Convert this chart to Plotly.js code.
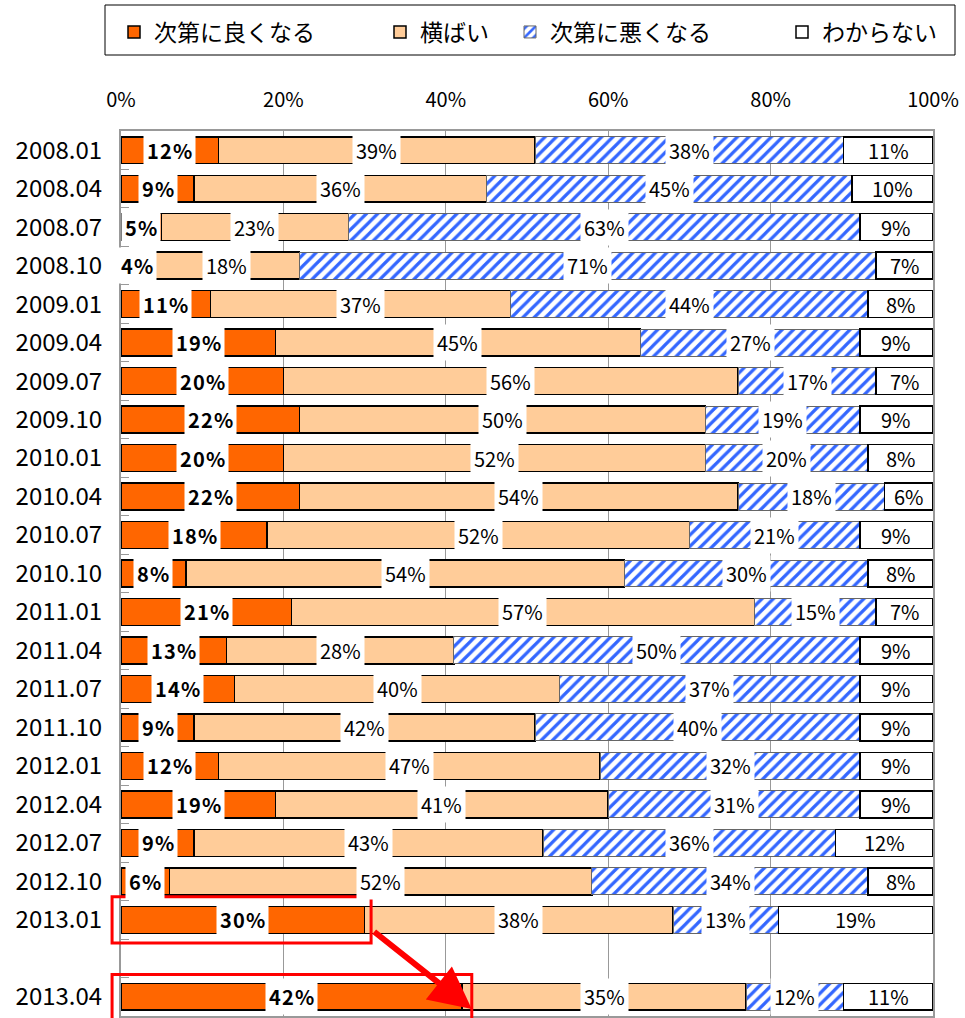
<!DOCTYPE html>
<html><head><meta charset="utf-8">
<script src="https://cdn.plot.ly/plotly-3.0.1.min.js"></script>
<style>html,body{margin:0;padding:0;background:#fff;}#chart{width:965px;height:1018px;}</style>
</head><body><div id="chart"></div>
<script>
const periods = ['2008.01','2008.04','2008.07','2008.10','2009.01','2009.04','2009.07','2009.10','2010.01','2010.04','2010.07','2010.10','2011.01','2011.04','2011.07','2011.10','2012.01','2012.04','2012.07','2012.10','2013.01','2013.04'];
const better  = [12, 9, 5, 4,11,19,20,22,20,22,18, 8,21,13,14, 9,12,19, 9, 6,30,42];
const flat    = [39,36,23,18,37,45,56,50,52,54,52,54,57,28,40,42,47,41,43,52,38,35];
const worse   = [38,45,63,71,44,27,17,19,20,18,21,30,15,50,37,40,32,31,36,34,13,12];
const unknown = [11,10, 9, 7, 8, 9, 7, 9, 8, 6, 9, 8, 7, 9, 9, 9, 9, 9,12, 8,19,11];
const seriesNames = ['次第に良くなる','横ばい','次第に悪くなる','わからない'];
const xTickVals = [0,20,40,60,80,100];
const xTickText = ['0%','20%','40%','60%','80%','100%'];

const FONT = '"Noto Sans CJK JP", "Noto Sans", sans-serif';
const gapAt = 21; // spacer before 2013.04
function withGap(arr, filler){ return arr.slice(0,gapAt).concat([filler], arr.slice(gapAt)); }
const yCats = withGap(periods, ' ');
const series = [better, flat, worse, unknown];

const styles = [
  {color:'#FF6600', line:{color:'#000', width:1.5}},
  {color:'#FFCC99', line:{color:'#000', width:1.5}},
  {color:'#FFFFFF', line:{color:'#666', width:1}, pattern:{shape:'/', fgcolor:'#3366FF', bgcolor:'#FFFFFF', size:8, solidity:0.4}},
  {color:'#FFFFFF', line:{color:'#000', width:1.5}}
];
const legendIds = ['legend','legend2','legend3','legend4'];

const traces = series.map((vals, k) => ({
  type:'bar', orientation:'h', name: seriesNames[k],
  y: yCats, x: withGap(vals, null),
  marker: styles[k], legend: legendIds[k],
  hoverinfo:'skip'
}));

// labels at segment centers
const annotations = [];
yCats.forEach((cat, i) => {
  if (cat === ' ') return;
  const j = i > gapAt ? i - 1 : i;
  let cum = 0;
  series.forEach((vals, k) => {
    const v = vals[j];
    const bold = k === 0;
    annotations.push({
      x: cum + v/2, y: i, xref:'x', yref:'y',
      text: bold ? String(v).split('').join('\u200A') + '\u200A%' : v + '%',
      showarrow:false,
      bgcolor: k === 3 ? 'rgba(0,0,0,0)' : '#FFFFFF', borderpad:3,
      font:{family:FONT, size:20, color:'#000', weight: bold ? 'bold' : 'normal'}
    });
    cum += v;
  });
});

// red arrow from 2013.01 box to 2013.04
const i1 = gapAt - 1, i2 = gapAt + 1;
annotations.push({
  xref:'x', yref:'y', axref:'x', ayref:'y',
  x: better[21] + 1.2, y: i2 + 0.32, ax: better[20] + 1, ay: i1 + 0.28,
  text:'', showarrow:true, arrowcolor:'#FF0000', arrowwidth:6, arrowhead:2, arrowsize:1.4, standoff:0, startstandoff:0
});

const nSlots = yCats.length;
const yRange = [nSlots - 0.5, -0.5];
function py(idx){ return (yRange[0] - idx) / (yRange[0] - yRange[1]); }
const plotL = 121, plotR = 933, plotT = 131, plotB = 1016;
function pxX(px){ return (px - plotL) / (plotR - plotL); }
function pxY(px){ return 1 + (plotT - px) / (plotB - plotT); }

const shapes = [
  {type:'rect', xref:'paper', yref:'paper', x0: pxX(105), x1: pxX(955), y0: pxY(5), y1: pxY(55), line:{color:'#000', width:1}, fillcolor:'rgba(0,0,0,0)'},
  {type:'rect', xref:'paper', yref:'paper', x0: -0.011, x1: (better[20]+0.8)/100, y0: py(i1+0.6), y1: py(i1-0.6), line:{color:'#FF0000', width:3}},
  {type:'rect', xref:'paper', yref:'paper', x0: -0.011, x1: (better[21]+1.2)/100, y0: py(i2+0.9), y1: py(i2-0.58), line:{color:'#FF0000', width:3}}
];

const legendX = [114, 380, 510, 782];
const legendCommon = {orientation:'h', xanchor:'left', yanchor:'middle', y: pxY(32), bgcolor:'rgba(0,0,0,0)', borderwidth:0, font:{family:FONT, size:23, color:'#000'}};
const layout = {
  width:965, height:1018,
  margin:{l:plotL, r:965-plotR, t:plotT, b:1018-plotB},
  paper_bgcolor:'#fff', plot_bgcolor:'#fff',
  barmode:'stack', bargap:0.3,
  font:{family:FONT, color:'#000'},
  showlegend:true,
  xaxis:{side:'top', range:[0,100], tickvals:xTickVals, ticktext:xTickText, showgrid:true, gridcolor:'#999', gridwidth:1,
         showline:true, linecolor:'#999', linewidth:2, mirror:true, ticks:'inside', ticklen:5, tickcolor:'#999',
         tickfont:{family:FONT, size:20, color:'#000'}, ticklabelstandoff:14, zeroline:false, fixedrange:true},
  yaxis:{type:'category', categoryorder:'array', categoryarray:yCats, range:yRange, showgrid:false,
         showline:true, linecolor:'#999', linewidth:2, mirror:true, ticks:'inside', ticklen:8, tickcolor:'#999', tickson:'boundaries',
         tickfont:{family:FONT, size:24, color:'#000'}, ticklabelstandoff:12, fixedrange:true},
  annotations: annotations,
  shapes: shapes
};
legendIds.forEach((id, k) => { layout[id] = Object.assign({}, legendCommon, {x: pxX(legendX[k])}); });

Plotly.newPlot('chart', traces, layout, {displayModeBar:false, staticPlot:true});
</script></body></html>
